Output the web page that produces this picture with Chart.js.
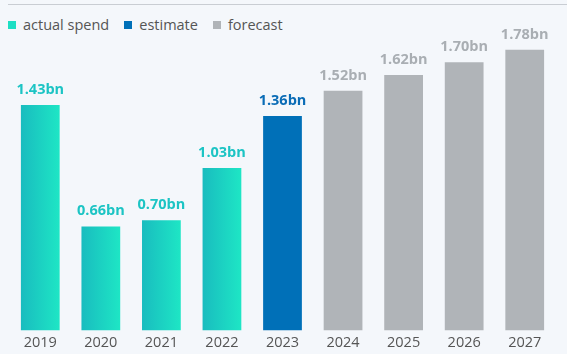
<!DOCTYPE html>
<html lang="en">
<head>
<meta charset="UTF-8">
<title>Spend</title>
<script src="https://cdn.jsdelivr.net/npm/chart.js"></script>
<style>
  html, body { margin: 0; padding: 0; background: #f4f7fb; }
  .wrap { position: relative; width: 567px; height: 354px; }
  .topline { position: absolute; left: 8px; right: 0; top: 4px; height: 1px; background: #c9cdd3; }
  .legend { position: absolute; left: 8px; top: 15px; font-family: "Open Sans", sans-serif; font-size: 14.5px; color: #555; display: flex; }
  .legend span { display: flex; align-items: center; margin-right: 15px; }
  .legend i { display: inline-block; width: 8px; height: 8px; margin-right: 7px; }
  canvas { position: absolute; left: 0; top: 0; }
</style>
</head>
<body>
<div class="wrap">
  <div class="topline"></div>
  <div class="legend">
    <span><i style="background:#1ddfc4"></i>actual spend</span>
    <span><i style="background:#0070b8"></i>estimate</span>
    <span><i style="background:#b0b4b8"></i>forecast</span>
  </div>
  <canvas id="c" width="567" height="354"></canvas>
</div>
<script>
const years = ['2019', '2020', '2021', '2022', '2023', '2024', '2025', '2026', '2027'];
const spend = [1.43, 0.66, 0.70, 1.03, 1.36, 1.52, 1.62, 1.70, 1.78];
const kind = ['actual', 'actual', 'actual', 'actual', 'estimate', 'forecast', 'forecast', 'forecast', 'forecast'];

const barPct = 0.64;
const labelColors = { actual: '#1cc4c4', estimate: '#0a6cb6', forecast: '#a9aeb3' };

function barColor(c) {
  const chart = c.chart;
  const k = kind[c.dataIndex];
  if (k === 'estimate') return '#0070b8';
  if (k === 'forecast') return '#b0b4b8';
  const area = chart.chartArea;
  if (!area) return '#1dd6c4';
  const x = chart.scales.x.getPixelForValue(c.dataIndex);
  const w = area.width / years.length * barPct;
  const g = chart.ctx.createLinearGradient(x - w / 2, 0, x + w / 2, 0);
  g.addColorStop(0, '#19bcbf');
  g.addColorStop(1, '#1ee6c5');
  return g;
}

// value labels above each bar
const valueLabels = {
  id: 'valueLabels',
  afterDatasetsDraw(chart) {
    const ctx = chart.ctx;
    ctx.save();
    ctx.font = 'bold 14.5px "Open Sans", sans-serif';
    ctx.textAlign = 'center';
    ctx.textBaseline = 'alphabetic';
    chart.getDatasetMeta(0).data.forEach((bar, i) => {
      ctx.fillStyle = labelColors[kind[i]];
      ctx.fillText(spend[i].toFixed(2) + 'bn', bar.x, bar.y - 11);
    });
    ctx.restore();
  }
};

new Chart(document.getElementById('c'), {
  type: 'bar',
  data: {
    labels: years,
    datasets: [{
      data: spend,
      backgroundColor: barColor,
      borderWidth: 0,
      categoryPercentage: 1,
      barPercentage: barPct
    }]
  },
  options: {
    responsive: false,
    animation: false,
    layout: { padding: { left: 10, right: 12, top: 15, bottom: -2 } },
    plugins: { legend: { display: false }, tooltip: { enabled: false } },
    scales: {
      x: {
        grid: { display: false, drawTicks: false },
        border: { display: false },
        ticks: { color: '#555', font: { family: 'Open Sans', size: 14.5 }, padding: 4 }
      },
      y: {
        display: false,
        min: 0,
        max: 2.0
      }
    }
  },
  plugins: [valueLabels]
});
</script>
</body>
</html>
